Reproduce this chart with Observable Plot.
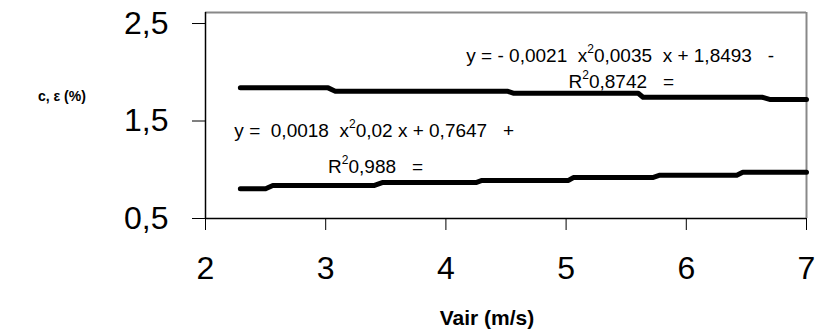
<!DOCTYPE html>
<html>
<head>
<meta charset="utf-8">
<script src="https://cdn.jsdelivr.net/npm/d3@7"></script>
<script src="https://cdn.jsdelivr.net/npm/@observablehq/plot@0.6"></script>
<style>
  body { margin: 0; background: #fff; }
  #wrap { position: relative; width: 816px; height: 333px; font-family: "Liberation Sans", Arial, sans-serif; }
  .ttl { position: absolute; font-weight: bold; font-size: 14px; color: #000; white-space: nowrap; line-height: 1; }
  svg text { white-space: pre; }
</style>
</head>
<body>
<div id="wrap"></div>
<script>
// Upper series (c)
const upperX = [2.29, 3.02, 3.08, 4.51, 4.56, 5.60, 5.64, 6.63, 6.70, 7.0];
const upperY = [1.84, 1.84, 1.806, 1.806, 1.785, 1.785, 1.744, 1.744, 1.72, 1.72];
// Lower series (ε)
const lowerX = [2.29, 2.50, 2.56, 3.40, 3.47, 4.25, 4.30, 5.02, 5.06, 5.72, 5.78, 6.42, 6.47, 7.0];
const lowerY = [0.805, 0.805, 0.838, 0.838, 0.869, 0.869, 0.89, 0.89, 0.92, 0.92, 0.944, 0.944, 0.975, 0.975];
// Tick values
const xTicks = [2, 3, 4, 5, 6, 7];
const yTicks = [0.5, 1.5, 2.5];
// Trendline labels and their anchors (data coordinates)
const eqText = ["y = - 0,0021  x²0,0035  x + 1,8493   -", "R²0,8742   =", "y =  0,0018  x²0,02 x + 0,7647   +", "R²0,988   ="];
const eqX = [4.17, 5.02, 2.24, 3.02];
const eqY = [2.165, 1.90, 1.40, 1.025];
const xTitle = "Vair (m/s)";
const yTitle = "c, ε (%)";

const upper = upperX.map((x, i) => ({x, y: upperY[i]}));
const lower = lowerX.map((x, i) => ({x, y: lowerY[i]}));
const eqs = eqText.map((t, i) => ({t, x: eqX[i], y: eqY[i]}));
const yTop = 2.613;
const fmt = d => d.toFixed(1).replace(".", ",");

const chart = Plot.plot({
  width: 816,
  height: 333,
  marginLeft: 205,
  marginRight: 10,
  marginTop: 12,
  marginBottom: 115,
  style: {fontFamily: "'Liberation Sans', Arial, sans-serif", background: "#fff", color: "#000"},
  x: {domain: [2, 7]},
  y: {domain: [0.5, yTop]},
  marks: [
    Plot.axisX({ticks: xTicks, tickSize: 12, tickPadding: 26, fontSize: 32, label: null, tickFormat: d => String(d)}),
    Plot.axisY({ticks: yTicks, tickSize: 13, tickPadding: 24, fontSize: 32, label: null, tickFormat: fmt}),
    Plot.ruleY([yTop], {stroke: "#888", strokeWidth: 2}),
    Plot.ruleX([7], {stroke: "#888", strokeWidth: 2}),
    Plot.ruleX([2], {stroke: "#000", strokeWidth: 1.5}),
    Plot.ruleY([0.5], {stroke: "#000", strokeWidth: 1.5}),
    Plot.line(upper, {x: "x", y: "y", stroke: "#000", strokeWidth: 5}),
    Plot.line(lower, {x: "x", y: "y", stroke: "#000", strokeWidth: 5}),
    Plot.text(eqs, {x: "x", y: "y", text: "t", textAnchor: "start", fontSize: 19, fill: "#000"})
  ]
});
const wrap = document.getElementById("wrap");
wrap.appendChild(chart);

// Render the "²" as a raised digit, like the original
d3.select(chart).selectAll("text").each(function() {
  const el = d3.select(this);
  const s = el.text();
  if (!s.includes("²")) return;
  const [a, b] = s.split("²");
  el.text(null);
  el.append("tspan").text(a);
  el.append("tspan").attr("dy", -9).attr("font-size", "12px").text("2");
  el.append("tspan").attr("dy", 9).text(b);
});

const yt = document.createElement("div");
yt.className = "ttl"; yt.textContent = yTitle;
yt.style.left = "38px"; yt.style.top = "89px";
wrap.appendChild(yt);
const xt = document.createElement("div");
xt.className = "ttl"; xt.textContent = xTitle;
xt.style.left = "487px"; xt.style.top = "307px"; xt.style.fontSize = "21px";
xt.style.transform = "translateX(-50%)";
wrap.appendChild(xt);
</script>
</body>
</html>
